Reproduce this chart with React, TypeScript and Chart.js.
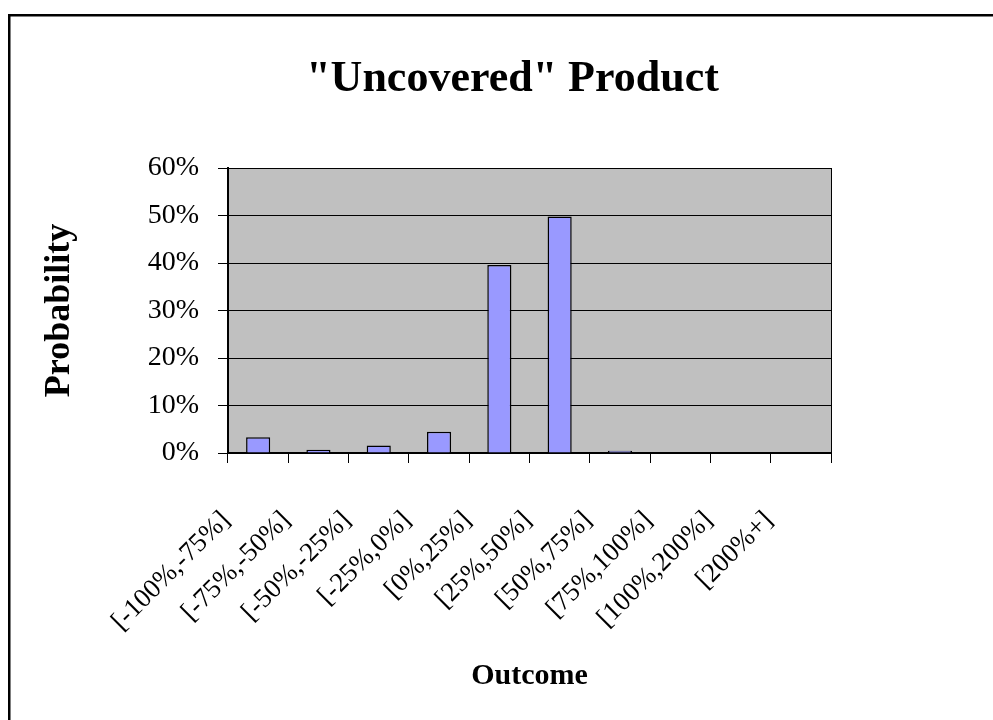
import React, { useEffect, useRef } from "react";
import { Chart, registerables } from "chart.js";

Chart.register(...registerables);

const categories = [
  "[-100%,-75%]",
  "[-75%,-50%]",
  "[-50%,-25%]",
  "[-25%,0%]",
  "[0%,25%]",
  "[25%,50%]",
  "[50%,75%]",
  "[75%,100%]",
  "[100%,200%]",
  "[200%+]",
];
const probabilities = [0.033, 0.007, 0.016, 0.045, 0.396, 0.498, 0.005, 0, 0, 0];
const yTickValues = [0, 0.1, 0.2, 0.3, 0.4, 0.5, 0.6];
const yTickLabels = ["0%", "10%", "20%", "30%", "40%", "50%", "60%"];

const chartTitle = '"Uncovered" Product';
const xTitle = "Outcome";
const yTitle = "Probability";

const SERIF = "'Liberation Serif', 'Times New Roman', serif";

const decorPlugin = {
  id: "decor",
  beforeDraw(chart: any) {
    const { ctx, chartArea } = chart;
    ctx.save();
    ctx.fillStyle = "#ffffff";
    ctx.fillRect(0, 0, chart.width, chart.height);
    ctx.fillStyle = "#C0C0C0";
    ctx.fillRect(chartArea.left, chartArea.top, chartArea.right - chartArea.left, chartArea.bottom - chartArea.top);
    ctx.restore();
  },
  afterDraw(chart: any) {
    const { ctx, chartArea } = chart;
    ctx.save();
    ctx.strokeStyle = "#000000";
    ctx.lineWidth = 1;
    ctx.beginPath();
    ctx.moveTo(chartArea.right + 0.5, chartArea.top);
    ctx.lineTo(chartArea.right + 0.5, chartArea.bottom);
    ctx.stroke();
    ctx.lineWidth = 2.5;
    ctx.beginPath();
    ctx.moveTo(9.25, chart.height + 10);
    ctx.lineTo(9.25, 15.25);
    ctx.lineTo(chart.width + 10, 15.25);
    ctx.stroke();
    ctx.restore();
  },
};

export default function App() {
  const canvasRef = useRef<HTMLCanvasElement | null>(null);

  useEffect(() => {
    if (!canvasRef.current) return;
    const chart = new Chart(canvasRef.current, {
      type: "bar",
      data: {
        labels: categories,
        datasets: [
          {
            label: "Probability",
            data: probabilities,
            backgroundColor: "#9999FF",
            borderColor: "#000000",
            borderWidth: 1.5,
            borderSkipped: "bottom",
            categoryPercentage: 1,
            barPercentage: 0.4,
          },
        ],
      },
      options: {
        responsive: false,
        animation: false,
        devicePixelRatio: 1,
        layout: { padding: { left: 32, right: 0, top: 0, bottom: 0 } },
        plugins: {
          legend: { display: false },
          tooltip: { enabled: false },
          title: {
            display: true,
            text: chartTitle,
            color: "#000000",
            font: { family: SERIF, size: 44, weight: "bold", lineHeight: 1.2 },
            padding: { top: 53.6, bottom: 61.6 },
          },
        },
        scales: {
          x: {
            offset: true,
            grid: {
              offset: true,
              drawOnChartArea: false,
              drawTicks: true,
              tickLength: 10,
              color: "#000000",
              lineWidth: 1,
            },
            border: { display: true, color: "#000000", width: 2 },
            ticks: {
              autoSkip: false,
              maxRotation: 45,
              minRotation: 45,
              labelOffset: -32,
              padding: 42,
              color: "#000000",
              font: { family: SERIF, size: 27 },
            },
            title: {
              display: true,
              text: xTitle,
              color: "#000000",
              font: { family: SERIF, size: 30, weight: "bold", lineHeight: 1.2 },
              padding: { top: 0, bottom: 26 },
            },
            afterFit: (s: any) => {
              s.height = 267;
            },
          },
          y: {
            min: 0,
            max: 0.6,
            afterBuildTicks: (s: any) => {
              s.ticks = yTickValues.map((v) => ({ value: v }));
            },
            grid: {
              drawTicks: true,
              tickLength: 10,
              color: "#000000",
              lineWidth: 1,
            },
            border: { display: true, color: "#000000", width: 2 },
            ticks: {
              padding: 19,
              color: "#000000",
              font: { family: SERIF, size: 28 },
              callback: (v: any) => {
                const i = yTickValues.findIndex((t) => Math.abs(t - Number(v)) < 1e-9);
                return i >= 0 ? yTickLabels[i] : "";
              },
            },
            title: {
              display: true,
              text: yTitle,
              color: "#000000",
              font: { family: SERIF, size: 36, weight: "bold", lineHeight: 1.2 },
              padding: { top: 6.4, bottom: 0 },
            },
            afterFit: (s: any) => {
              s.width = 196;
            },
          },
          y2: {
            position: "right",
            display: true,
            grid: { display: false, drawTicks: false },
            border: { display: false },
            ticks: { display: false },
            afterFit: (s: any) => {
              s.width = 162;
            },
          },
        },
      },
      plugins: [decorPlugin],
    } as any);
    return () => chart.destroy();
  }, []);

  return (
    <div style={{ position: "fixed", left: 0, top: 0, width: 993, height: 720 }}>
      <canvas ref={canvasRef} width={993} height={720} />
    </div>
  );
}
